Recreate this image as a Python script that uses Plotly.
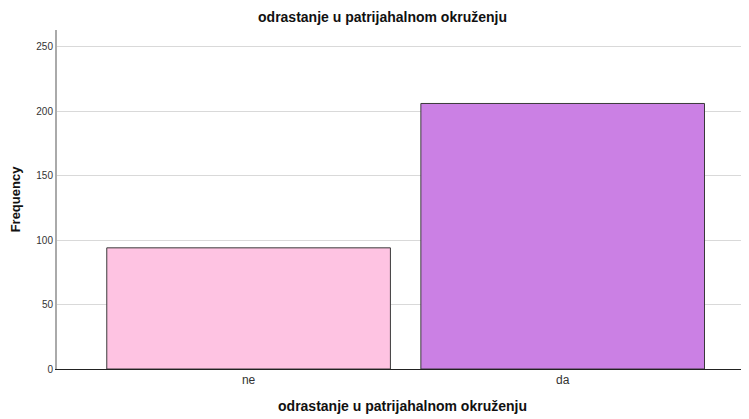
import plotly.graph_objects as go

categories = ['ne', 'da']
frequency = [94, 206]
bar_colors = ['#fec3e2', '#cb80e4']
y_ticks = [0, 50, 100, 150, 200, 250]

fig = go.Figure(go.Bar(
    x=categories,
    y=frequency,
    marker=dict(color=bar_colors, line=dict(color='#3a3a3a', width=1)),
    width=0.903,
))

# page body has an 8px margin, so the plot box is shifted up/left by 8px
fig.update_layout(
    width=749,
    height=419,
    margin=dict(l=49, r=9, t=22, b=58, autoexpand=False),
    paper_bgcolor='white',
    plot_bgcolor='white',
    font=dict(family='Arial, Liberation Sans', size=10, color='#222222'),
    title=dict(
        text='<b>odrastanje u patrijahalnom okruženju</b>',
        xref='container', x=0.5, xanchor='center',
        yref='container', y=0.99, yanchor='top',
        font=dict(size=14, color='#111111'),
    ),
    showlegend=False,
)
fig.update_xaxes(
    range=[-0.61, 1.59],
    automargin=False,
    showline=True, linecolor='#222222', linewidth=1,
    showgrid=False, ticks='',
    tickfont=dict(size=12, color='#333333'),
    title=dict(text='<b>odrastanje u patrijahalnom okruženju</b>', font=dict(size=14, color='#111111'), standoff=14),
)
fig.update_yaxes(
    range=[0, 263],
    automargin=False,
    tickvals=y_ticks,
    showline=True, linecolor='#aaaaaa', linewidth=2,
    showgrid=True, gridcolor='#d9d9d9', gridwidth=1,
    zeroline=False, ticks='',
    tickfont=dict(size=10, color='#333333'),
    title=dict(text='<b>Frequency</b>', font=dict(size=13, color='#111111'), standoff=14),
)

fig.write_html('out.html')
